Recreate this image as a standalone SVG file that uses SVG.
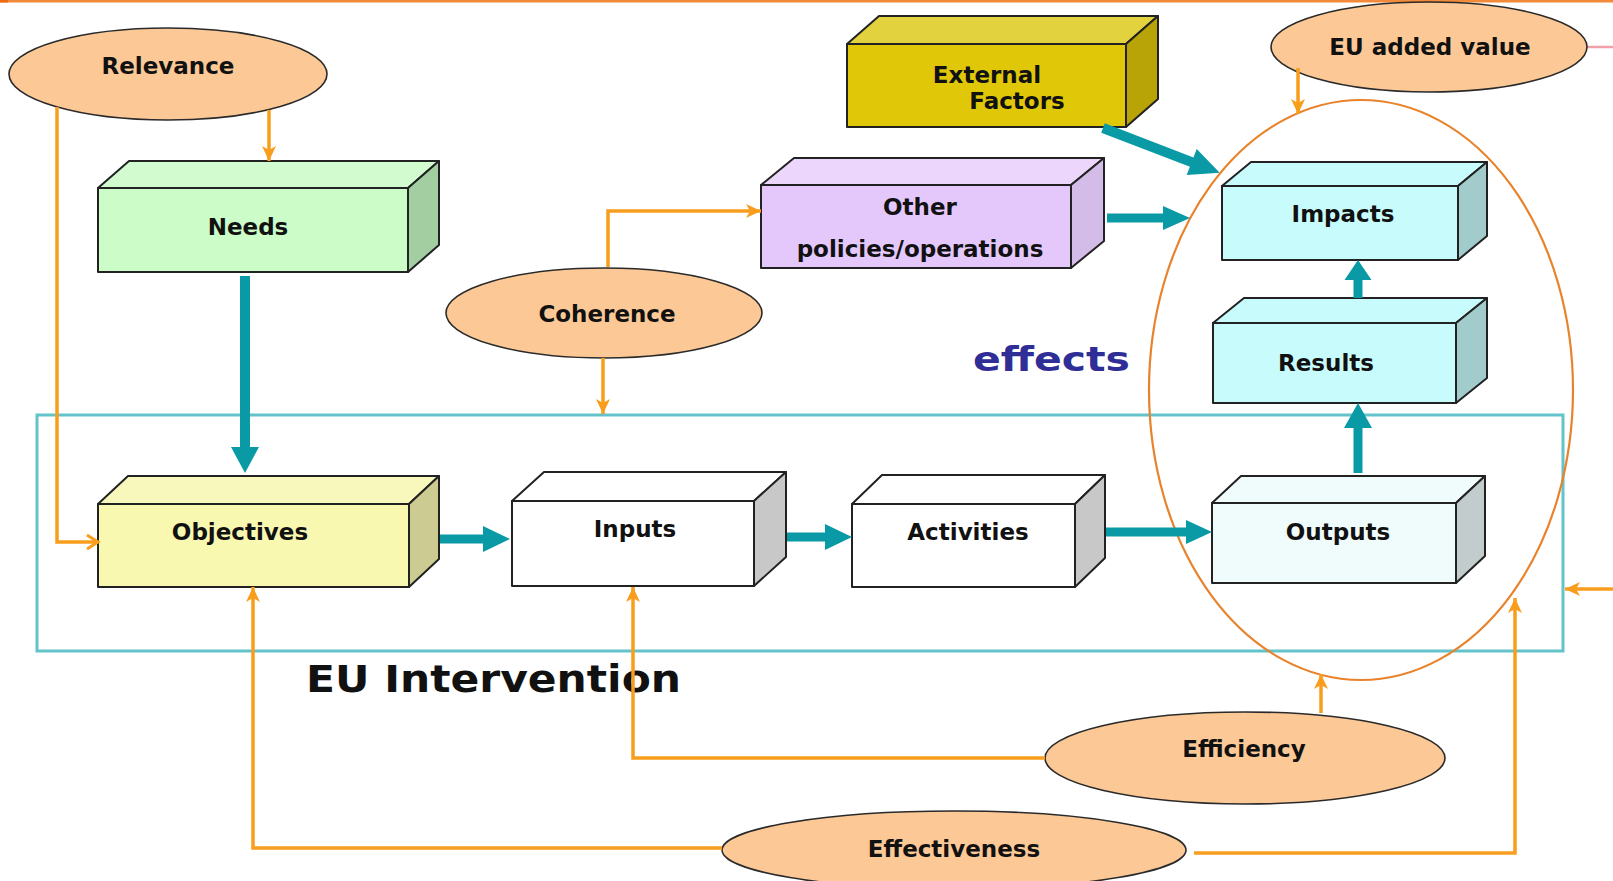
<svg xmlns="http://www.w3.org/2000/svg" width="1613" height="881" viewBox="0 0 1613 881">
<defs>
<style>
.lbl{font-family:"DejaVu Sans","Verdana",sans-serif;font-weight:bold;font-size:23px;fill:#111;text-anchor:middle}
.ell{fill:#fcc996;stroke:#2a2a2a;stroke-width:1.6}
.ed{stroke:#222;stroke-width:2;stroke-linejoin:round}
.or{fill:none;stroke:#f99d1c;stroke-width:3.5}
.teal{fill:#0a9aa6}
</style>
<marker id="oa" markerUnits="userSpaceOnUse" markerWidth="16" markerHeight="16" viewBox="0 0 16 16" refX="15" refY="8" orient="auto">
<path d="M0,1 L15,8 L0,15 L4,8 z" fill="#f99d1c"/>
</marker>
<marker id="oc" markerUnits="userSpaceOnUse" markerWidth="18" markerHeight="18" viewBox="0 0 18 18" refX="15" refY="9" orient="auto">
<path d="M4,2 L15,9 L4,16" fill="none" stroke="#f99d1c" stroke-width="3"/>
</marker>
</defs>
<rect x="0" y="0" width="1613" height="881" fill="#ffffff"/>
<rect x="0" y="0" width="1613" height="2.5" fill="#f28a3a"/>
<rect x="0" y="0" width="8" height="2.5" fill="#ee6a12"/>
<line x1="1587" y1="47" x2="1613" y2="47" stroke="#f2a0a8" stroke-width="2.5"/>

<g id="container">
<rect x="37" y="415" width="1526" height="236" fill="none" stroke="#63c3cb" stroke-width="3"/>
<text x="306" y="692" font-family="DejaVu Sans, Verdana, sans-serif" font-weight="bold" font-size="37" fill="#111" textLength="375" lengthAdjust="spacingAndGlyphs">EU Intervention</text>
</g>

<g id="effects-label">
<text x="973" y="371" font-family="DejaVu Sans, Verdana, sans-serif" font-weight="bold" font-size="33" fill="#2e2e96" textLength="157" lengthAdjust="spacingAndGlyphs">effects</text>
</g>

<g id="relevance"><ellipse class="ell" cx="168" cy="74" rx="159" ry="46"/><text class="lbl" x="168" y="74">Relevance</text></g>
<g id="coherence"><ellipse class="ell" cx="604" cy="313" rx="158" ry="45"/><text class="lbl" x="607" y="322">Coherence</text></g>
<g id="eu-added-value"><ellipse class="ell" cx="1429" cy="47" rx="158" ry="45"/><text class="lbl" x="1430" y="55">EU added value</text></g>
<g id="efficiency"><ellipse class="ell" cx="1245" cy="758" rx="200" ry="46"/><text class="lbl" x="1244" y="757">Efficiency</text></g>
<g id="effectiveness"><ellipse class="ell" cx="954" cy="850" rx="232" ry="39"/><text class="lbl" x="954" y="857">Effectiveness</text></g>

<g id="needs">
<polygon class="ed" points="98,188 129,161 439,161 408,188" fill="#d2fcd0"/>
<polygon class="ed" points="408,188 439,161 439,245 408,272" fill="#a2cea2"/>
<rect class="ed" x="98" y="188" width="310" height="84" fill="#ccfcc8"/>
<text class="lbl" x="248" y="235">Needs</text>
</g>
<g id="external-factors">
<polygon class="ed" points="847,44 879,16 1158,16 1126,44" fill="#e2d23e"/>
<polygon class="ed" points="1126,44 1158,16 1158,99 1126,127" fill="#b8a406"/>
<rect class="ed" x="847" y="44" width="279" height="83" fill="#e0c808"/>
<text class="lbl" x="987" y="83">External</text>
<text class="lbl" x="1017" y="109">Factors</text>
</g>
<g id="other-policies">
<polygon class="ed" points="761,185 794,158 1104,158 1071,185" fill="#ecd6fc"/>
<polygon class="ed" points="1071,185 1104,158 1104,241 1071,268" fill="#d4bce8"/>
<rect class="ed" x="761" y="185" width="310" height="83" fill="#e4c8fc"/>
<text class="lbl" x="920" y="215">Other</text>
<text class="lbl" x="920" y="257">policies/operations</text>
</g>
<g id="impacts">
<polygon class="ed" points="1222,186 1251,162 1487,162 1458,186" fill="#c8fcfc"/>
<polygon class="ed" points="1458,186 1487,162 1487,236 1458,260" fill="#a2cccc"/>
<rect class="ed" x="1222" y="186" width="236" height="74" fill="#c8fcfc"/>
<text class="lbl" x="1343" y="222">Impacts</text>
</g>
<g id="results">
<polygon class="ed" points="1213,323 1244,298 1487,298 1456,323" fill="#c8fcfc"/>
<polygon class="ed" points="1456,323 1487,298 1487,378 1456,403" fill="#a2cccc"/>
<rect class="ed" x="1213" y="323" width="243" height="80" fill="#c8fcfc"/>
<text class="lbl" x="1326" y="371">Results</text>
</g>
<g id="objectives">
<polygon class="ed" points="98,504 128,476 439,476 409,504" fill="#f8f8bc"/>
<polygon class="ed" points="409,504 439,476 439,559 409,587" fill="#cccc92"/>
<rect class="ed" x="98" y="504" width="311" height="83" fill="#f8f8b0"/>
<text class="lbl" x="240" y="540">Objectives</text>
</g>
<g id="inputs">
<polygon class="ed" points="512,501 544,472 786,472 754,501" fill="#ffffff"/>
<polygon class="ed" points="754,501 786,472 786,557 754,586" fill="#c8c8c8"/>
<rect class="ed" x="512" y="501" width="242" height="85" fill="#ffffff"/>
<text class="lbl" x="635" y="537">Inputs</text>
</g>
<g id="activities">
<polygon class="ed" points="852,504 882,475 1105,475 1075,504" fill="#ffffff"/>
<polygon class="ed" points="1075,504 1105,475 1105,558 1075,587" fill="#c8c8c8"/>
<rect class="ed" x="852" y="504" width="223" height="83" fill="#ffffff"/>
<text class="lbl" x="968" y="540">Activities</text>
</g>
<g id="outputs">
<polygon class="ed" points="1212,503 1241,476 1485,476 1456,503" fill="#f0fcfc"/>
<polygon class="ed" points="1456,503 1485,476 1485,556 1456,583" fill="#c2cccc"/>
<rect class="ed" x="1212" y="503" width="244" height="80" fill="#f0fcfc"/>
<text class="lbl" x="1338" y="540">Outputs</text>
</g>

<g id="effects-ellipse">
<ellipse cx="1361" cy="390" rx="212" ry="290" fill="none" stroke="#e8832c" stroke-width="2.2"/>
</g>

<g id="connectors">
<polygon class="teal" points="240,276 250,276 250,447 259,447 245,473 231,447 240,447"/>
<polygon class="teal" points="440,534.5 483,534.5 483,526 510,539 483,552 483,543.5 440,543.5"/>
<polygon class="teal" points="787,532.5 825,532.5 825,524 852,537 825,550 825,541.5 787,541.5"/>
<polygon class="teal" points="1106,527.5 1186,527.5 1186,520 1212,532 1186,544 1186,536.5 1106,536.5"/>
<polygon class="teal" points="1107,213.5 1163,213.5 1163,206 1190,218 1163,230 1163,222.5 1107,222.5"/>
<polygon class="teal" points="1353.5,473 1362.5,473 1362.5,428 1372,428 1358,403 1344,428 1353.5,428"/>
<polygon class="teal" points="1353.5,298 1362.5,298 1362.5,280 1371.5,280 1358,260 1344.5,280 1353.5,280"/>
<polygon class="teal" transform="translate(1103,128) rotate(21)" points="0,-5 95,-5 95,-14 125,0 95,14 95,5 0,5"/>

<path class="or" d="M269,110 V161" marker-end="url(#oa)"/>
<path class="or" d="M57,107 V542 H98" marker-end="url(#oc)"/>
<path class="or" d="M608,267 V211 H761" marker-end="url(#oa)"/>
<path class="or" d="M603,358 V414" marker-end="url(#oa)"/>
<path class="or" d="M1298,68 V114" marker-end="url(#oa)"/>
<path class="or" d="M1321,713 V674" marker-end="url(#oa)"/>
<path class="or" d="M1045,758 H633 V587" marker-end="url(#oa)"/>
<path class="or" d="M722,848 H253 V587" marker-end="url(#oa)"/>
<path class="or" d="M1194,853 H1515 V598" marker-end="url(#oa)"/>
<path class="or" d="M1613,589 H1565" marker-end="url(#oa)"/>
</g>
</svg>
